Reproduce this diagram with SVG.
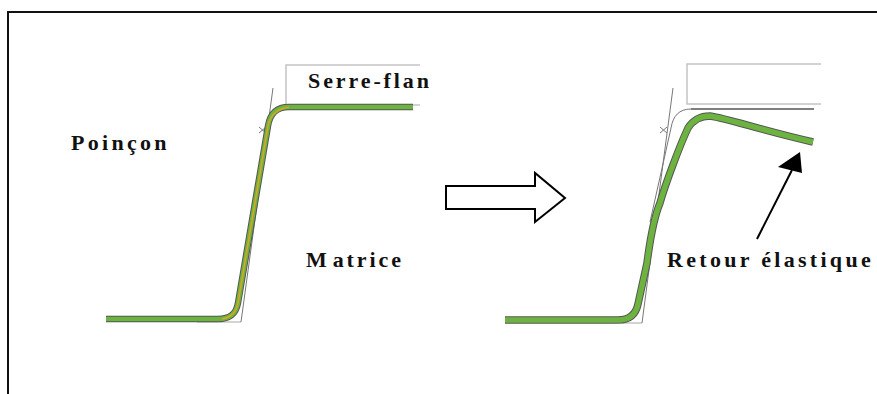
<svg xmlns="http://www.w3.org/2000/svg" width="877" height="394" viewBox="0 0 877 394">
<style>
.lbl{font-family:"Liberation Serif",serif;font-weight:bold;font-size:22px;fill:#111;letter-spacing:2.9px}
.wide{letter-spacing:3.3px}
.g{fill:none;stroke:#c4c4c4;stroke-width:1.5}
.d{fill:none;stroke:#777;stroke-width:1}
.edge{fill:none;stroke:#555;stroke-width:6.5;stroke-linejoin:round}
.sheet{fill:none;stroke:#6db33f;stroke-width:4.5;stroke-linejoin:round}
.thick{stroke-width:5.5}
.thick-edge{stroke-width:7.5}
</style>
<rect width="877" height="394" fill="#fff"/>
<path d="M8 394V12H877" fill="none" stroke="#111" stroke-width="2"/>
<g id="left-tool">
<path class="g" d="M420 65H286V105H420"/>
<path class="g" d="M197 322H241"/>
<path class="d" d="M241 322L273 88"/>
<path class="d" d="M259 127L266 133M259 133L266 127"/>
</g>
<g id="left-sheet">
<path class="edge" d="M106 319H218C230 319 236 314 238 303L268 126C270 114 276 107 289 107H413"/>
<path class="sheet" d="M106 319H218C230 319 236 314 238 303L268 126C270 114 276 107 289 107H413"/>
<path d="M222 319C232 317 236 312 238 303L268 126C270 116 276 109 289 107" fill="none" stroke="#d6a823" stroke-width="1.5"/>
</g>
<g id="right-tool">
<path class="g" d="M821 64H687V104H821"/>
<path class="g" d="M622 323H642"/>
<path class="d" d="M642 323L673 88"/>
<path class="d" d="M660 127L667 133M660 133L667 127"/>
<path class="d" d="M650 222L671 128C673 116 679 109 691 109"/>
<path d="M691 109H814" fill="none" stroke="#555" stroke-width="1.5"/>
</g>
<g id="right-sheet">
<path class="edge thick-edge" d="M505 320H618C630 320 636 314 638 304L647 263C650 240 655 215 660 203C665 185 680 145 688 128C693 120 700 116 710 116C730 119 760 130 813 142"/>
<path class="sheet thick" d="M505 320H618C630 320 636 314 638 304L647 263C650 240 655 215 660 203C665 185 680 145 688 128C693 120 700 116 710 116C730 119 760 130 813 142"/>
</g>
<g id="connectors">
<path d="M446 186H535V173L565 198L535 222V209H446Z" fill="#fff" stroke="#000" stroke-width="2"/>
<path d="M757 239L792 170" fill="none" stroke="#000" stroke-width="2"/>
<path d="M800 152L778 167L802 173Z" fill="#000"/>
</g>
<g id="poincon"><text class="lbl wide" x="71" y="150">Poinçon</text></g>
<g id="serre-flan"><text class="lbl" x="308" y="88">Serre-flan</text></g>
<g id="matrice"><text class="lbl" x="306" y="267">M<tspan dx="3">atrice</tspan></text></g>
<g id="retour"><text class="lbl wide" x="667" y="267">Retour élastique</text></g>
</svg>
